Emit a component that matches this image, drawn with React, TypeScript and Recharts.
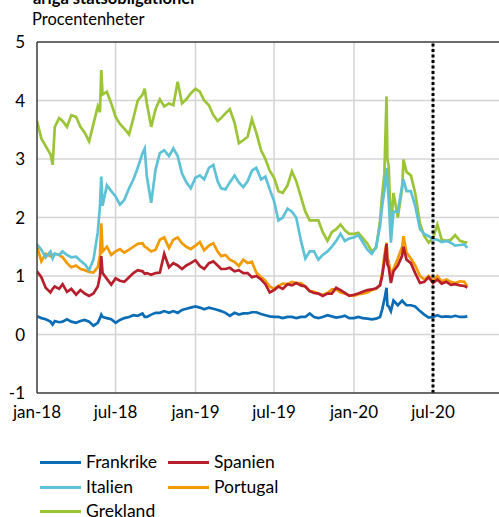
import React from 'react';
import { LineChart, Line, XAxis, YAxis, CartesianGrid, ReferenceLine } from 'recharts';

const dates = [
  // 2018
  '2018-01-01', '2018-01-11', '2018-01-21', '2018-02-01', '2018-02-06', '2018-02-11', '2018-02-21',
  '2018-03-01', '2018-03-11', '2018-03-21', '2018-04-01', '2018-04-11', '2018-04-21',
  '2018-05-01', '2018-05-11', '2018-05-21', '2018-05-26', '2018-05-29', '2018-06-01', '2018-06-11', '2018-06-21',
  '2018-07-01', '2018-07-11', '2018-07-21', '2018-08-01', '2018-08-11', '2018-08-21',
  '2018-09-01', '2018-09-06', '2018-09-11', '2018-09-21', '2018-10-01', '2018-10-11', '2018-10-21',
  '2018-11-01', '2018-11-11', '2018-11-21', '2018-12-01', '2018-12-11', '2018-12-21',
  // 2019
  '2019-01-01', '2019-01-11', '2019-01-21', '2019-02-01', '2019-02-11', '2019-02-21',
  '2019-03-01', '2019-03-11', '2019-03-21', '2019-04-01', '2019-04-11', '2019-04-21',
  '2019-05-01', '2019-05-11', '2019-05-21', '2019-06-01', '2019-06-11', '2019-06-21',
  '2019-07-01', '2019-07-11', '2019-07-21', '2019-08-01', '2019-08-11', '2019-08-21',
  '2019-09-01', '2019-09-11', '2019-09-21', '2019-10-01', '2019-10-11', '2019-10-21',
  '2019-11-01', '2019-11-11', '2019-11-21', '2019-12-01', '2019-12-11', '2019-12-21',
  // 2020
  '2020-01-01', '2020-01-11', '2020-01-21', '2020-02-01', '2020-02-11', '2020-02-21',
  '2020-03-01', '2020-03-06', '2020-03-11', '2020-03-16', '2020-03-18', '2020-03-21', '2020-03-26',
  '2020-04-01', '2020-04-11', '2020-04-21', '2020-04-24', '2020-05-01', '2020-05-11', '2020-05-21',
  '2020-06-01', '2020-06-11', '2020-06-21', '2020-07-01', '2020-07-11', '2020-07-21',
  '2020-08-01', '2020-08-11', '2020-08-21', '2020-09-01', '2020-09-11', '2020-09-18',
];

const frankrike = [
  0.31, 0.28, 0.26, 0.22, 0.17, 0.23, 0.21,
  0.22, 0.26, 0.22, 0.2, 0.23, 0.25,
  0.22, 0.15, 0.2, 0.28, 0.34, 0.3, 0.28, 0.26,
  0.2, 0.25, 0.28, 0.3, 0.33, 0.32,
  0.36, 0.3, 0.3, 0.34, 0.37, 0.37, 0.4,
  0.37, 0.4, 0.37, 0.42, 0.44, 0.46,
  0.48, 0.46, 0.43, 0.46, 0.44, 0.42,
  0.4, 0.37, 0.32, 0.37, 0.34, 0.36,
  0.36, 0.38, 0.38, 0.35, 0.33, 0.31,
  0.3, 0.3, 0.28, 0.3, 0.3, 0.28,
  0.3, 0.3, 0.36, 0.3, 0.28, 0.3,
  0.33, 0.31, 0.29, 0.3, 0.32, 0.28,
  0.28, 0.3, 0.28, 0.27, 0.26, 0.27,
  0.3, 0.43, 0.6, 0.8, 0.5, 0.48, 0.4,
  0.58, 0.5, 0.58, 0.55, 0.5, 0.5, 0.48,
  0.4, 0.34, 0.29, 0.3, 0.33, 0.3,
  0.31, 0.3, 0.32, 0.3, 0.3, 0.31,
];

const spanien = [
  1.08, 0.98, 0.8, 0.72, 0.78, 0.82, 0.78,
  0.86, 0.73, 0.78, 0.68, 0.76, 0.7,
  0.66, 0.7, 0.82, 1.0, 1.34, 1.05, 0.95, 0.85,
  0.96, 0.92, 0.9, 0.98, 1.05, 1.1,
  1.08, 1.04, 1.05, 1.02, 1.05, 1.06, 1.38,
  1.15, 1.22, 1.18, 1.12, 1.18, 1.22,
  1.27, 1.17, 1.12, 1.22, 1.25, 1.18,
  1.12, 1.12, 1.14, 1.08, 1.1, 1.05,
  1.05, 0.98, 1.0, 0.94, 0.86, 0.72,
  0.76, 0.82, 0.78, 0.86, 0.84, 0.88,
  0.84, 0.82, 0.74, 0.71, 0.7, 0.66,
  0.7, 0.7, 0.8, 0.76, 0.71, 0.66,
  0.68, 0.7, 0.73, 0.76, 0.77, 0.79,
  0.84, 1.0, 1.25, 1.55, 1.2, 1.15, 0.88,
  1.08, 1.18, 1.35, 1.5, 1.28, 1.22, 1.05,
  0.88, 0.9, 0.98, 0.88, 0.94, 0.87,
  0.9, 0.85, 0.86, 0.84, 0.83, 0.8,
];

const italien = [
  1.54, 1.45, 1.32, 1.42, 1.3, 1.38, 1.36,
  1.42, 1.36, 1.32, 1.33, 1.26, 1.2,
  1.1, 1.28, 1.75, 2.2, 2.7, 2.2, 2.55, 2.45,
  2.36, 2.22, 2.3, 2.5, 2.65, 2.85,
  3.1, 3.18, 2.7, 2.25, 2.82, 3.1, 3.15,
  3.05, 3.18, 3.05, 2.75, 2.6, 2.5,
  2.68, 2.72, 2.65, 2.85, 2.9, 2.62,
  2.5, 2.48, 2.6, 2.72, 2.6, 2.52,
  2.62, 2.8, 2.85, 2.65, 2.7, 2.48,
  2.28, 1.95, 2.0, 2.15, 2.1, 2.0,
  1.6, 1.3, 1.42, 1.42, 1.28, 1.36,
  1.42, 1.5, 1.6, 1.72, 1.6, 1.64,
  1.66, 1.7, 1.58, 1.45, 1.38, 1.5,
  1.85, 2.2, 2.45, 2.85, 2.6, 2.3, 1.57,
  2.1, 2.1, 2.55, 2.65, 2.45, 2.45, 2.2,
  1.8, 1.72, 1.68, 1.63, 1.62, 1.58,
  1.6, 1.57, 1.52, 1.53, 1.54, 1.48,
];

const portugal = [
  1.51, 1.25, 1.38, 1.34, 1.36, 1.38, 1.36,
  1.32, 1.22, 1.15, 1.18, 1.12, 1.1,
  1.07, 1.06, 1.15, 1.35, 1.9, 1.42, 1.5, 1.36,
  1.42, 1.46, 1.4, 1.45, 1.5, 1.55,
  1.56, 1.5, 1.48, 1.42, 1.45, 1.62, 1.66,
  1.48, 1.62, 1.66, 1.56, 1.5, 1.46,
  1.52, 1.58, 1.44, 1.52, 1.56, 1.42,
  1.34, 1.36, 1.28, 1.24, 1.17, 1.28,
  1.22, 1.24, 1.06, 0.98, 0.92, 0.82,
  0.78, 0.83, 0.87, 0.86, 0.9, 0.88,
  0.88, 0.82, 0.74, 0.73, 0.7, 0.68,
  0.71, 0.77, 0.77, 0.72, 0.7, 0.67,
  0.66, 0.69, 0.7, 0.72, 0.76, 0.78,
  0.85, 1.05, 1.35, 1.57, 1.3, 1.25, 1.0,
  1.12, 1.3, 1.5, 1.68, 1.4, 1.3, 1.18,
  1.0, 0.94, 1.0, 0.92, 1.0, 0.91,
  0.94, 0.9, 0.88, 0.91, 0.9, 0.83,
];

const grekland = [
  3.65, 3.35, 3.22, 3.08, 2.9, 3.55, 3.7,
  3.65, 3.55, 3.75, 3.72, 3.55, 3.45,
  3.3, 3.6, 3.9, 3.8, 4.52, 4.1, 4.15, 3.95,
  3.72, 3.6, 3.52, 3.42, 3.7, 4.0,
  4.1, 4.2, 3.95, 3.55, 3.85, 4.02, 3.9,
  3.95, 3.92, 4.32, 3.95, 4.02, 4.12,
  4.2, 4.15, 4.0, 3.92, 3.75, 3.65,
  3.7, 3.78, 3.85, 3.62, 3.27, 3.32,
  3.38, 3.68, 3.45, 3.15, 3.0, 2.8,
  2.68, 2.45, 2.42, 2.55, 2.79, 2.62,
  2.35, 2.1, 1.95, 1.95, 1.95, 1.75,
  1.6, 1.75, 1.8, 1.88, 1.78, 1.72,
  1.72, 1.74, 1.65, 1.55, 1.42, 1.48,
  1.95, 2.4, 2.75, 4.07, 3.0, 2.88, 1.8,
  2.42, 2.0, 2.5, 2.99, 2.78, 2.72, 2.42,
  1.9, 1.68, 1.57, 1.65, 1.88, 1.62,
  1.6, 1.62, 1.7, 1.6, 1.58, 1.57,
];

const xTickDates = ['2018-01-01', '2018-07-01', '2019-01-01', '2019-07-01', '2020-01-01', '2020-07-01'];
const xTickLabels = ['jan-18', 'jul-18', 'jan-19', 'jul-19', 'jan-20', 'jul-20'];
const yTicks = [-1, 0, 1, 2, 3, 4, 5];
const xDomainDates = ['2018-01-01', '2020-11-30'];
const markerDate = '2020-07-01';

const seriesColors: Record<string, string> = {
  Frankrike: '#0a6db6',
  Spanien: '#b71f2d',
  Italien: '#5ec2d6',
  Portugal: '#f39a00',
  Grekland: '#9cc437',
};

const BASE = Date.UTC(2018, 0, 1);
const toDay = (s: string) => (Date.parse(s) - BASE) / 86400000;

const data = dates.map((d, i) => ({
  t: toDay(d),
  Frankrike: frankrike[i],
  Spanien: spanien[i],
  Italien: italien[i],
  Portugal: portugal[i],
  Grekland: grekland[i],
}));

const xTicks = xTickDates.map(toDay);
const labelFor = (v: number) => {
  const idx = xTicks.indexOf(v);
  return idx >= 0 ? xTickLabels[idx] : '';
};

const FONT = 'Lato, "Noto Sans", sans-serif';
const drawOrder = ['Grekland', 'Portugal', 'Italien', 'Spanien', 'Frankrike'];

const legendRows = [
  [{ name: 'Frankrike', x: 40 }, { name: 'Spanien', x: 168 }],
  [{ name: 'Italien', x: 40 }, { name: 'Portugal', x: 168 }],
  [{ name: 'Grekland', x: 40 }],
];
const legendRowY = [462, 487, 511];

export default function App() {
  return (
    <div style={{ position: 'absolute', left: 0, top: 0, width: 499, height: 517, overflow: 'hidden', background: '#fff', fontFamily: FONT }}>
      <div style={{ position: 'absolute', left: 33, top: -12, fontSize: 16.5, fontWeight: 700, lineHeight: '20px', whiteSpace: 'nowrap', color: '#000' }}>
        åriga statsobligationer
      </div>
      <div style={{ position: 'absolute', left: 32, top: 9, fontSize: 16.5, lineHeight: '20px', whiteSpace: 'nowrap', color: '#000' }}>
        Procentenheter
      </div>
      <div style={{ position: 'absolute', left: 0, top: 0 }}>
        <LineChart width={499} height={517} data={data} margin={{ top: 42, right: 0, bottom: 94, left: 0 }}>
          <CartesianGrid stroke="#d4d4d4" strokeWidth={1.5} horizontalValues={[0, 1, 2, 3, 4]} verticalValues={xTicks.slice(1)} />
          <XAxis
            type="number"
            dataKey="t"
            domain={xDomainDates.map(toDay)}
            ticks={xTicks}
            tickFormatter={labelFor}
            interval={0}
            height={30}
            tickSize={0}
            tickMargin={13}
            tickLine={false}
            axisLine={{ stroke: '#3a3a3a', strokeWidth: 1.5 }}
            tick={{ fontSize: 17, fill: '#000', fontFamily: FONT }}
            allowDataOverflow
          />
          <YAxis
            type="number"
            domain={[-1, 5]}
            ticks={yTicks}
            interval={0}
            width={37}
            tickSize={0}
            tickMargin={12}
            tickLine={false}
            axisLine={{ stroke: '#3a3a3a', strokeWidth: 1.5 }}
            tick={{ fontSize: 17, fill: '#000', fontFamily: FONT }}
          />
          <ReferenceLine y={5} stroke="#3a3a3a" strokeWidth={1.5} />
          {drawOrder.map((name) => (
            <Line
              key={name}
              type="linear"
              dataKey={name}
              stroke={seriesColors[name]}
              strokeWidth={2.7}
              dot={false}
              isAnimationActive={false}
            />
          ))}
          <ReferenceLine x={toDay(markerDate)} stroke="#000" strokeWidth={3} strokeDasharray="3 2.5" />
        </LineChart>
      </div>
      {legendRows.map((row, r) =>
        row.map((item) => (
          <div key={item.name} style={{ position: 'absolute', left: item.x, top: legendRowY[r] - 10, height: 20, display: 'flex', alignItems: 'center', whiteSpace: 'nowrap' }}>
            <div style={{ width: 41, height: 3, background: seriesColors[item.name] }} />
            <span style={{ marginLeft: 5, fontSize: 17.5, color: '#000', lineHeight: '20px' }}>{item.name}</span>
          </div>
        ))
      )}
    </div>
  );
}
